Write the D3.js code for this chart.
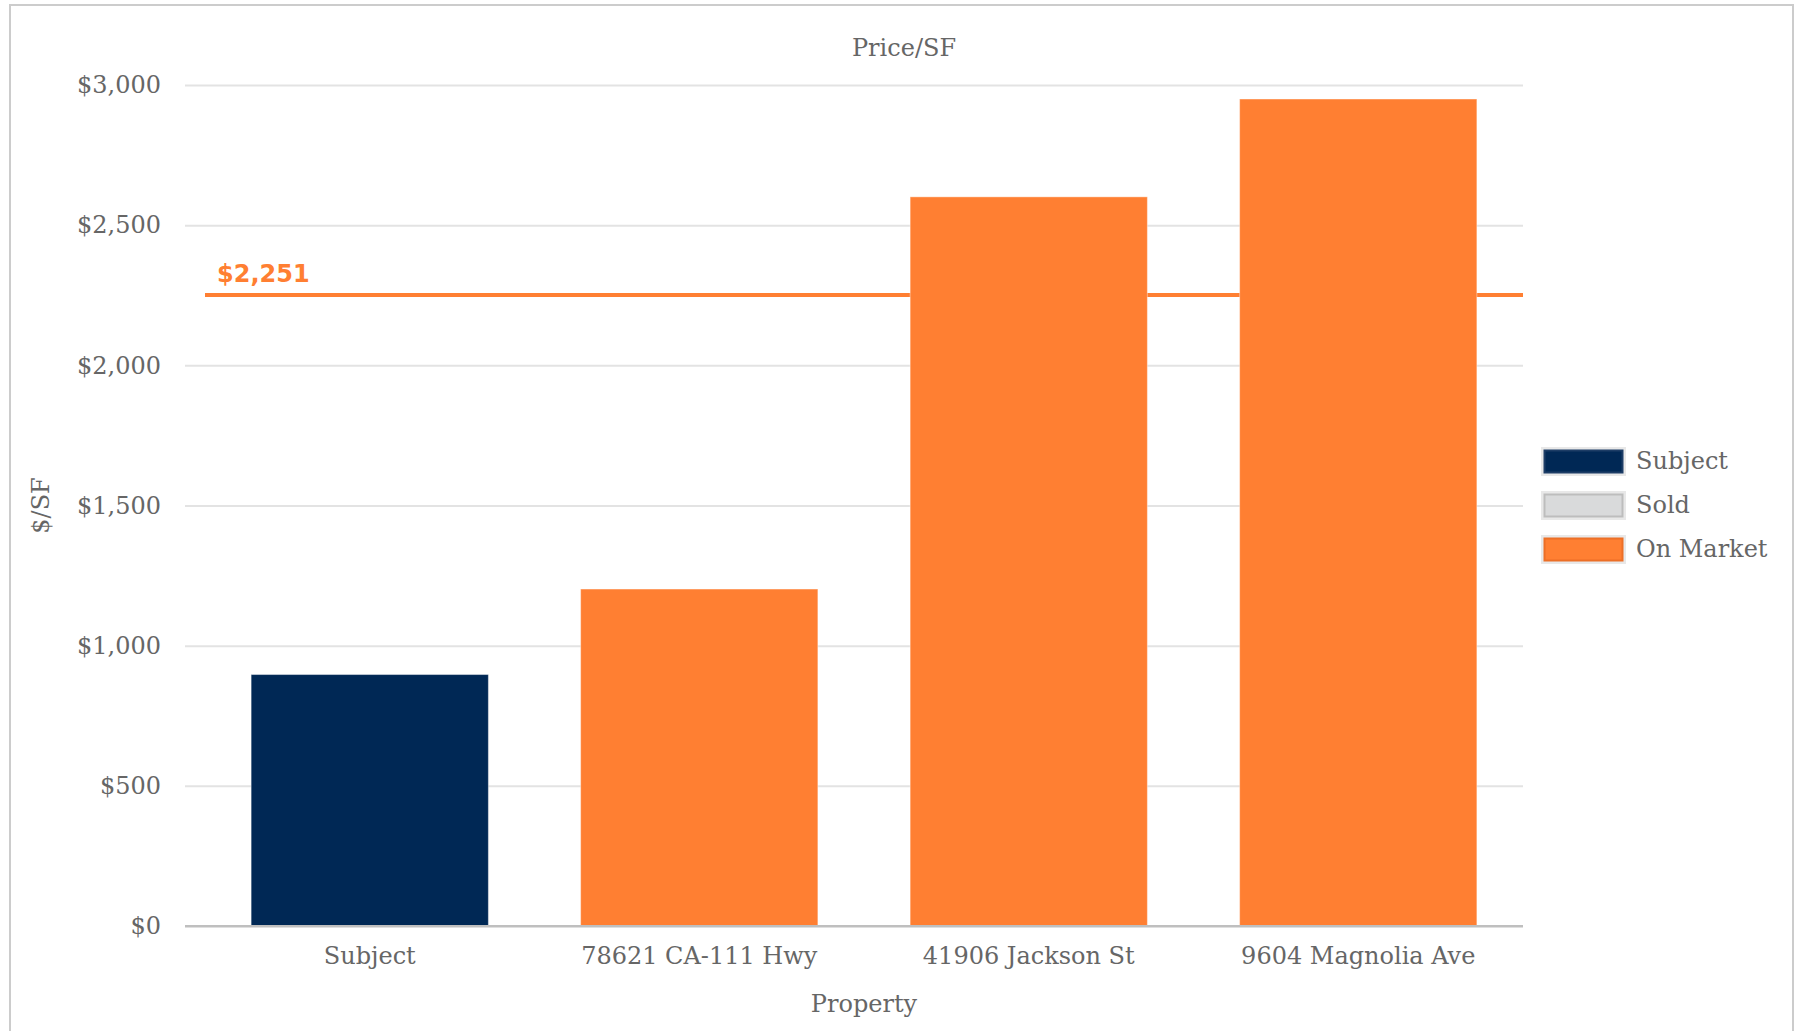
<!DOCTYPE html>
<html>
<head>
<meta charset="utf-8">
<script src="https://cdn.jsdelivr.net/npm/d3@7"></script>
<style>
	body { margin: 0; background: white; }
	svg { display: block; }
</style>
</head>
<body>
<div id="chart"></div>
<script>

//****************************************************************************************************************************//
// Data

var properties = ["Subject", "78621 CA-111 Hwy", "41906 Jackson St", "9604 Magnolia Ave"];
var pricePerSF = [897, 1202, 2601, 2950];
var statuses = ["Subject", "On Market", "On Market", "On Market"];
var averageValue = 2251;
var yTicks = [0, 500, 1000, 1500, 2000, 2500, 3000];
var legendLabels = ["Subject", "Sold", "On Market"];

var fillColors = { "Subject" : "#002855", "Sold" : "#d9dadb", "On Market" : "#ff7f32" };
var strokeColors = { "Subject" : "#1d3d66", "Sold" : "#bdbdbd", "On Market" : "#ec6f26" };

var width = 1797, height = 1031;
var textColor = "#666666";
var serif = "'DejaVu Serif', serif";
var fontSize = "24px";

var canvas = d3.select("#chart").append("svg")
				.attr("width", width)
				.attr("height", height);

// frame
canvas.append("rect")
		.attr("x", 10)
		.attr("y", 5)
		.attr("width", 1783)
		.attr("height", 1060)
		.attr("fill", "none")
		.attr("stroke", "#cccccc")
		.attr("stroke-width", 2);

//****************************************************************************************************************************//
// Scales

var gridLeft = 185, plotLeft = 205, plotRight = 1523;
var plotTop = 85, plotBottom = 926;

var xScale = d3.scaleBand()
				.domain(properties)
				.range([plotLeft, plotRight])
				.paddingInner(0.28)
				.paddingOuter(0.14);

var yScale = d3.scaleLinear()
				.domain([0, 3000])
				.range([plotBottom, plotTop]);

//****************************************************************************************************************************//
// Title

canvas.append("text")
		.attr("x", 904)
		.attr("y", 56)
		.attr("text-anchor", "middle")
		.style("font-family", serif)
		.style("font-size", fontSize)
		.attr("fill", textColor)
		.text("Price/SF");

//****************************************************************************************************************************//
// Grid + y Axis

var yAxis = d3.axisLeft(yScale)
				.tickValues(yTicks)
				.tickSize(-(plotRight - gridLeft))
				.tickPadding(24)
				.tickFormat(function(d){ return "$" + d3.format(",")(d); });

var yAxisGroup = canvas.append("g")
						.attr("class", "y axis")
						.attr("transform", "translate(" +gridLeft+ ",0)")
						.call(yAxis);

yAxisGroup.select(".domain").remove();
yAxisGroup.selectAll(".tick line")
			.attr("stroke", function(d){ return d == 0 ? "#bfbfbf" : "#e3e3e3"; })
			.attr("stroke-width", 2);
yAxisGroup.selectAll(".tick text")
			.attr("fill", textColor)
			.style("font-family", serif)
			.style("font-size", fontSize);

canvas.append("text")
		.attr("transform", "translate(49," +((plotTop + plotBottom)/2)+ ") rotate(-90)")
		.attr("text-anchor", "middle")
		.style("font-family", serif)
		.style("font-size", fontSize)
		.attr("fill", textColor)
		.text("$/SF");

//****************************************************************************************************************************//
// Average line (behind bars)

canvas.append("line")
		.attr("x1", plotLeft)
		.attr("x2", plotRight)
		.attr("y1", yScale(averageValue))
		.attr("y2", yScale(averageValue))
		.attr("stroke", "#ff7f32")
		.attr("stroke-width", 4);

canvas.append("text")
		.attr("x", 217)
		.attr("y", yScale(averageValue) - 13)
		.style("font-family", "'DejaVu Sans', sans-serif")
		.style("font-weight", "bold")
		.style("font-size", fontSize)
		.attr("fill", "#ff7f32")
		.text("$" + d3.format(",")(averageValue));

//****************************************************************************************************************************//
// Bars

canvas.append("g")
		.selectAll("rect")
		.data(properties)
		.enter()
		.append("rect")
		.attr("x", function(d){ return xScale(d); })
		.attr("y", function(d, i){ return yScale(pricePerSF[i]); })
		.attr("width", xScale.bandwidth())
		.attr("height", function(d, i){ return yScale(0) - yScale(pricePerSF[i]); })
		.attr("fill", function(d, i){ return fillColors[statuses[i]]; })
		.attr("stroke", "rgba(255,255,255,0.4)")
		.attr("stroke-width", 1);

// base line on top of bars
canvas.append("line")
		.attr("x1", gridLeft)
		.attr("x2", plotRight)
		.attr("y1", yScale(0))
		.attr("y2", yScale(0))
		.attr("stroke", "#bfbfbf")
		.attr("stroke-width", 2);

//****************************************************************************************************************************//
// x Axis

var xAxis = d3.axisBottom(xScale).tickSize(0).tickPadding(21);

var xAxisGroup = canvas.append("g")
						.attr("class", "x axis")
						.attr("transform", "translate(0," +plotBottom+ ")")
						.call(xAxis);

xAxisGroup.select(".domain").remove();
xAxisGroup.selectAll(".tick text")
			.attr("fill", textColor)
			.style("font-family", serif)
			.style("font-size", fontSize);

canvas.append("text")
		.attr("x", (plotLeft + plotRight)/2)
		.attr("y", 1012)
		.attr("text-anchor", "middle")
		.style("font-family", serif)
		.style("font-size", fontSize)
		.attr("fill", textColor)
		.text("Property");

//****************************************************************************************************************************//
// Legend

var legend = canvas.append("g")
					.attr("transform", "translate(1541,447)");

var legendItem = legend.selectAll("g")
						.data(legendLabels)
						.enter()
						.append("g")
						.attr("transform", function(d, i){ return "translate(0," +(i*44)+ ")"; });

legendItem.append("rect")
			.attr("x", 0)
			.attr("y", 0)
			.attr("width", 85)
			.attr("height", 29)
			.attr("fill", "#e8e8e8");

legendItem.append("rect")
			.attr("x", 3.5)
			.attr("y", 3.5)
			.attr("width", 78)
			.attr("height", 22)
			.attr("fill", function(d){ return fillColors[d]; })
			.attr("stroke", function(d){ return strokeColors[d]; })
			.attr("stroke-width", 2);

legendItem.append("text")
			.attr("x", 95)
			.attr("y", 22)
			.style("font-family", serif)
			.style("font-size", fontSize)
			.attr("fill", textColor)
			.text(function(d){ return d; });

</script>
</body>
</html>
